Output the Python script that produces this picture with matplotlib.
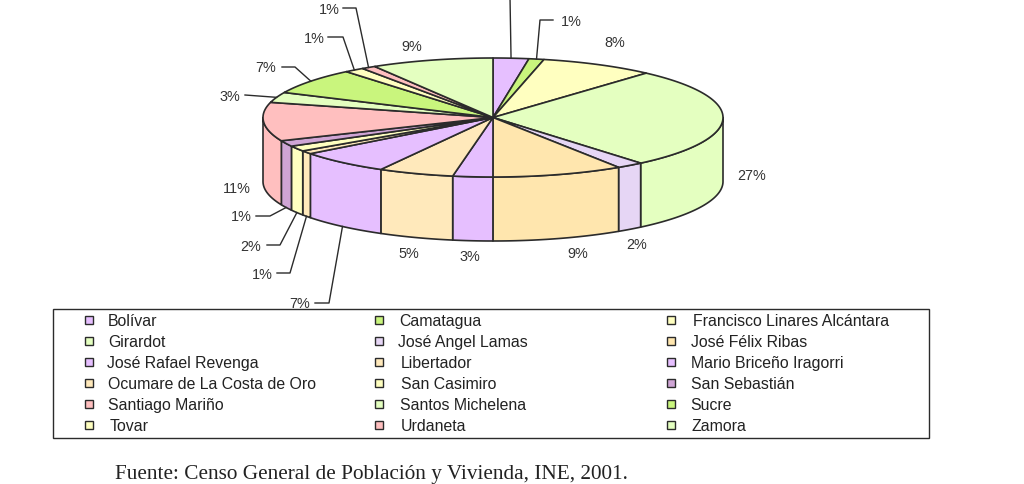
import numpy as np
import matplotlib
matplotlib.use('Agg')
import matplotlib.pyplot as plt
from matplotlib.patches import Polygon, Rectangle

plt.rcParams['font.family'] = ['Liberation Sans', 'DejaVu Sans']

# Names as they appear in the legend (row by row)
names = ['Bolívar', 'Camatagua', 'Francisco Linares Alcántara',
         'Girardot', 'José Angel Lamas', 'José Félix Ribas',
         'José Rafael Revenga', 'Libertador', 'Mario Briceño Iragorri',
         'Ocumare de La Costa de Oro', 'San Casimiro', 'San Sebastián',
         'Santiago Mariño', 'Santos Michelena', 'Sucre',
         'Tovar', 'Urdaneta', 'Zamora']
# Printed labels
labels = ['3%', '1%', '8%', '27%', '2%', '9%', '3%', '5%', '7%',
          '1%', '2%', '1%', '11%', '3%', '7%', '1%', '1%', '9%']
# Size of each slice (percent)
shares = [2.5, 1.06, 8.05, 27.3, 1.9, 9.2, 2.8, 5.3, 6.5,
          0.9, 1.5, 1.6, 10.5, 2.8, 7.1, 1.4, 1.0, 8.6]
colors = ['#E6BFFF', '#C9F57D', '#FFFFC0', '#E4FFC0', '#E6D6F5', '#FFE6AE',
          '#E6BFFF', '#FFE9BB', '#E6BFFF', '#FFE9BB', '#FFFFC0', '#CFA5D5',
          '#FFBFBF', '#E4FFC0', '#C9F57D', '#FFFFC0', '#FFBFBF', '#E4FFC0']

# Pie geometry in pixels
cx, cy, rx, ry, depth = 493, 118.5, 230, 59.5, 64
line = '#2b2b2b'
text = '#333333'

# Where each label goes, and the elbow of its leader line (None = no leader)
# The first label (Bolívar) lies above the page in the original, only its line shows
label_xy = [None, (571, 22), (615, 43), (752, 176), (637, 245), (578, 254),
            (470, 257), (409, 254), (300, 304), (262, 275), (251, 247), (241, 217),
            (237, 189), (230, 97), (266, 68), (314, 39), (329, 10), (412, 47)]
leaders = [[(510, -2)], [(540, 21), (553, 21)], None, None, None, None,
           None, None, [(329, 304), (315, 304)], [(290, 274), (277, 274)],
           [(280, 246), (267, 246)], [(270, 217), (256, 217)],
           None, [(245, 96)], [(295, 68), (282, 68)], [(343, 38), (328, 38)],
           [(356, 9), (343, 9)], None]

legend_x = [89, 379, 671]
legend_y = [321, 342, 363, 384, 405, 426]
legend_text_x = [108, 399, 693, 108, 398, 691, 107, 401, 691,
                 108, 401, 691, 108, 400, 690, 110, 401, 692]


def arc(t0, t1, down=0):
    t = np.radians(np.linspace(t0, t1, max(2, int(abs(t1 - t0) * 2) + 2)))
    return np.column_stack([cx + rx * np.sin(t), cy - ry * np.cos(t) + down])


fig = plt.figure(figsize=(10.24, 4.85), dpi=100)
ax = fig.add_axes([0, 0, 1, 1])
ax.set_xlim(0, 1024)
ax.set_ylim(485, 0)
ax.axis('off')

edges = np.concatenate([[0], np.cumsum(shares)])
edges = edges / edges[-1] * 360

# Side walls first, only the front half shows
for i, c in enumerate(colors):
    a, b = max(edges[i], 90), min(edges[i + 1], 270)
    if b <= a:
        continue
    pts = np.vstack([arc(a, b), arc(b, a, depth)])
    ax.add_patch(Polygon(pts, closed=True, fc=c, ec=line, lw=1.2, joinstyle='round'))

# Top of the pie
for i, c in enumerate(colors):
    pts = np.vstack([[(cx, cy)], arc(edges[i], edges[i + 1])])
    ax.add_patch(Polygon(pts, closed=True, fc=c, ec=line, lw=1.2, joinstyle='round'))

# Labels and leader lines
for i, lab in enumerate(labels):
    if label_xy[i] is not None:
        x, y = label_xy[i]
        ax.text(x, y, lab, ha='center', va='center', fontsize=10.4, color=text)
    if leaders[i] is None:
        continue
    mid = (edges[i] + edges[i + 1]) / 2
    down = depth if 90 < mid < 270 else 0
    start = arc(mid, mid, down)[0]
    pts = np.vstack([start, leaders[i]])
    ax.plot(pts[:, 0], pts[:, 1], color=line, lw=1.0)

# Legend box
ax.add_patch(Rectangle((53, 310), 876, 129, fc='white', ec=line, lw=1.0, zorder=3))
for i, name in enumerate(names):
    x = legend_x[i % 3]
    y = legend_y[i // 3]
    ax.add_patch(Rectangle((x - 4, y - 4), 8, 8, fc=colors[i], ec=line, lw=1.0, zorder=4))
    ax.text(legend_text_x[i], y + 0.5, name, ha='left', va='center', fontsize=11.4,
            color='#222222', zorder=4)

ax.text(115, 475, 'Fuente: Censo General de Población y Vivienda, INE, 2001.',
        ha='left', va='center', fontsize=15.3, family=['Liberation Serif'], color='#222222')

fig.savefig('out.png', dpi=100)
